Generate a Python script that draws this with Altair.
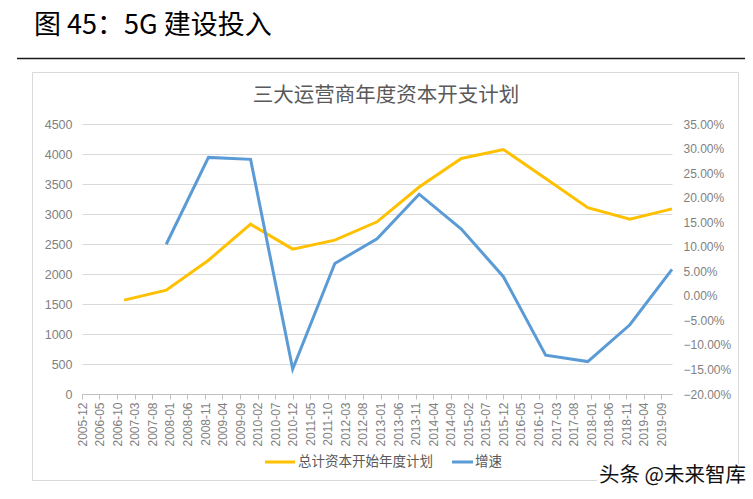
import altair as alt
import pandas as pd

# ---- data ----
plan_years = [2006, 2007, 2008, 2009, 2010, 2011, 2012, 2013, 2014, 2015, 2016, 2017, 2018, 2019]
plan_values = [1565, 1730, 2230, 2830, 2415, 2565, 2870, 3450, 3925, 4075, 3590, 3105, 2915, 3085]

growth_years = [2007, 2008, 2009, 2010, 2011, 2012, 2013, 2014, 2015, 2016, 2017, 2018, 2019]
growth_values = [0.105, 0.282, 0.278, -0.149, 0.066, 0.116, 0.207, 0.136, 0.039, -0.121, -0.134, -0.059, 0.054]

tick_labels = ["2005-12", "2006-05", "2006-10", "2007-03", "2007-08", "2008-01", "2008-06",
               "2008-11", "2009-04", "2009-09", "2010-02", "2010-07", "2010-12", "2011-05",
               "2011-10", "2012-03", "2012-08", "2013-01", "2013-06", "2013-11", "2014-04",
               "2014-09", "2015-02", "2015-07", "2015-12", "2016-05", "2016-10", "2017-03",
               "2017-08", "2018-01", "2018-06", "2018-11", "2019-04", "2019-09"]
left_ticks = [0, 500, 1000, 1500, 2000, 2500, 3000, 3500, 4000, 4500]
right_ticks = [-0.20, -0.15, -0.10, -0.05, 0.0, 0.05, 0.10, 0.15, 0.20, 0.25, 0.30, 0.35]

series_plan = "总计资本开始年度计划"
series_growth = "增速"
header = "图 45：5G 建设投入"
chart_title = "三大运营商年度资本开支计划"
watermark = "头条 @未来智库"

YELLOW = "#FFC000"
BLUE = "#5B9BD5"
GRAY_TXT = "#7f7f7f"

plan_df = pd.DataFrame({"date": [f"{y}-12-01T00:00:00Z" for y in plan_years], "value": plan_values})
growth_df = pd.DataFrame({"date": [f"{y}-12-01T00:00:00Z" for y in growth_years], "value": growth_values})

tick_dates = [alt.DateTime(year=int(t[:4]), month=int(t[5:]), date=1, utc=True) for t in tick_labels]
x_domain = [alt.DateTime(year=2005, month=12, date=1, utc=True),
            alt.DateTime(year=2019, month=12, date=1, utc=True)]

W, H = 590, 270
PL, PT = 82, 124

x_enc = alt.X(
    "date:T",
    scale=alt.Scale(type="utc", domain=x_domain),
    axis=alt.Axis(
        values=tick_dates,
        labelExpr="utcFormat(datum.value, '%Y-%m')",
        labelAngle=270,
        labelFontSize=12,
        labelColor=GRAY_TXT,
        labelFont="Liberation Sans",
        labelPadding=3,
        labelOverlap=False,
        labelFlush=False,
        domainColor="#bfbfbf",
        tickColor="#bfbfbf",
        tickSize=5,
        grid=False,
        title=None,
    ),
)

plan_line = alt.Chart(plan_df).mark_line(color=YELLOW, strokeWidth=3).encode(
    x=x_enc,
    y=alt.Y(
        "value:Q",
        scale=alt.Scale(domain=[0, 4500], nice=False),
        axis=alt.Axis(
            values=left_ticks,
            format="d",
            orient="left",
            domain=False,
            ticks=False,
            grid=True,
            gridColor="#d9d9d9",
            labelFontSize=12.5,
            labelColor=GRAY_TXT,
            labelFont="Liberation Sans",
            labelPadding=10,
            title=None,
        ),
    ),
)

growth_line = alt.Chart(growth_df).mark_line(color=BLUE, strokeWidth=3).encode(
    x=x_enc,
    y=alt.Y(
        "value:Q",
        scale=alt.Scale(domain=[-0.20, 0.35], nice=False),
        axis=alt.Axis(
            values=right_ticks,
            orient="right",
            format=".2%",
            domain=False,
            ticks=False,
            grid=False,
            labelFontSize=12,
            labelColor=GRAY_TXT,
            labelFont="Liberation Sans",
            labelPadding=11,
            title=None,
        ),
    ),
)

one = alt.Data(values=[{}])

def px(x):
    return x - PL

def py(y):
    return y - PT

box = alt.Chart(one).mark_rect(fill="white", fillOpacity=0, stroke="#d9d9d9", strokeWidth=1).encode(
    x=alt.value(px(32.5)), x2=alt.value(px(738.5)), y=alt.value(py(72.5)), y2=alt.value(py(480.5))
)

head_rule = alt.Chart(one).mark_rule(color="#1a1a1a", strokeWidth=1.5).encode(
    x=alt.value(px(17)), x2=alt.value(px(745)), y=alt.value(py(58.5))
)

head_text = alt.Chart(one).mark_text(
    align="left", baseline="middle", fontSize=27, font="Noto Sans CJK SC", color="#000000"
).encode(x=alt.value(px(34)), y=alt.value(py(26)), text=alt.value(header))

title_text = alt.Chart(one).mark_text(
    align="center", baseline="middle", fontSize=20.5, font="Noto Sans CJK SC", color="#595959"
).encode(x=alt.value(px(386)), y=alt.value(py(96)), text=alt.value(chart_title))

leg_rule1 = alt.Chart(one).mark_rule(color=YELLOW, strokeWidth=3).encode(
    x=alt.value(px(265)), x2=alt.value(px(295)), y=alt.value(py(462))
)
leg_text1 = alt.Chart(one).mark_text(
    align="left", baseline="middle", fontSize=13.5, font="Noto Sans CJK SC", color="#595959"
).encode(x=alt.value(px(298)), y=alt.value(py(462)), text=alt.value(series_plan))
leg_rule2 = alt.Chart(one).mark_rule(color=BLUE, strokeWidth=3).encode(
    x=alt.value(px(452)), x2=alt.value(px(473)), y=alt.value(py(462))
)
leg_text2 = alt.Chart(one).mark_text(
    align="left", baseline="middle", fontSize=13.5, font="Noto Sans CJK SC", color="#595959"
).encode(x=alt.value(px(475)), y=alt.value(py(462)), text=alt.value(series_growth))

wm_bg = alt.Chart(one).mark_rect(fill="white").encode(
    x=alt.value(px(597)), x2=alt.value(px(748)), y=alt.value(py(464)), y2=alt.value(py(490))
)
wm_text = alt.Chart(one).mark_text(
    align="left", baseline="middle", fontSize=20.5, font="Noto Sans CJK SC", color="#111111"
).encode(x=alt.value(px(599)), y=alt.value(py(476)), text=alt.value(watermark))

chart = alt.layer(
    box, head_rule, head_text, title_text,
    plan_line, growth_line,
    leg_rule1, leg_text1, leg_rule2, leg_text2,
    wm_bg, wm_text,
).resolve_scale(y="independent").properties(
    width=W,
    height=H,
    autosize=alt.AutoSizeParams(type="none"),
    padding={"left": PL, "top": PT, "right": 753 - PL - W, "bottom": 499 - PT - H},
    background="white",
).configure_view(stroke=None)

chart.save("out.html", embed_options={"renderer": "svg", "actions": False})
